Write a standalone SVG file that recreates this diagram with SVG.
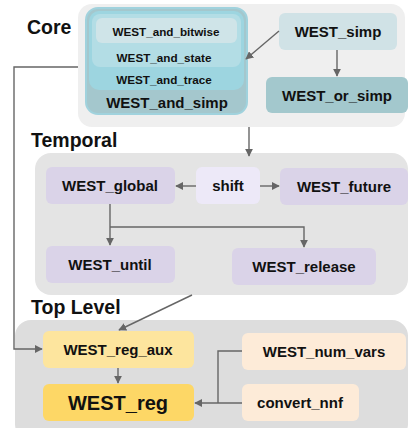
<svg xmlns="http://www.w3.org/2000/svg" width="409" height="428" viewBox="0 0 409 428">
  <style>
    text { font-family: "Liberation Sans", Arial, sans-serif; font-weight: bold; fill: #111; text-anchor: middle; }
    .title { font-size: 19.5px; text-anchor: start; }
    .n14 { font-size: 15px; }
    .n15 { font-size: 15px; }
    .n11 { font-size: 11.7px; }
    .edge { fill: none; stroke: #666; stroke-width: 1.4; }
    .arr { marker-end: url(#ah); }
  </style>
  <defs>
    <marker id="ah" viewBox="0 0 10 10" refX="9" refY="5" markerWidth="8" markerHeight="8" markerUnits="userSpaceOnUse" orient="auto">
      <path d="M0,0 L10,5 L0,10 z" fill="#666"/>
    </marker>
  </defs>

  <!-- cluster backgrounds -->
  <g id="cluster-core">
    <rect x="78" y="4" width="327" height="123" rx="14" fill="#efefef"/>
    <text class="title" x="27" y="34">Core</text>
  </g>
  <g id="cluster-temporal">
    <rect x="35" y="153" width="373" height="142" rx="16" fill="#e4e4e4"/>
    <text class="title" x="31" y="147">Temporal</text>
  </g>
  <g id="cluster-top">
    <rect x="15" y="320" width="393" height="120" rx="16" fill="#dddddd"/>
    <text class="title" x="31" y="314">Top Level</text>
  </g>

  <!-- nested WEST_and_simp stack -->
  <g id="WEST_and_simp">
    <rect x="86" y="8" width="161" height="106" rx="12" fill="#a4c7cd" stroke="#a0d2dd" stroke-width="2"/>
    <text class="n15" x="167" y="108">WEST_and_simp</text>
  </g>
  <g id="WEST_and_trace">
    <rect x="89" y="11" width="155" height="79" rx="10" fill="#9dd5e0"/>
    <text class="n11" x="164" y="84">WEST_and_trace</text>
  </g>
  <g id="WEST_and_state">
    <rect x="92" y="14" width="149" height="53" rx="8" fill="#b3dde5"/>
    <text class="n11" x="164" y="62">WEST_and_state</text>
  </g>
  <g id="WEST_and_bitwise">
    <rect x="96" y="18" width="141" height="25" rx="6" fill="#cfe4e8"/>
    <text class="n11" x="166" y="36">WEST_and_bitwise</text>
  </g>

  <g id="WEST_simp">
    <rect x="279" y="13" width="118" height="37" rx="6" fill="#d0e2e6"/>
    <text class="n15" x="338" y="37">WEST_simp</text>
  </g>
  <g id="WEST_or_simp">
    <rect x="266" y="77" width="142" height="36" rx="6" fill="#a3c8cd"/>
    <text class="n15" x="337" y="101">WEST_or_simp</text>
  </g>

  <!-- temporal nodes -->
  <g id="WEST_global">
    <rect x="46" y="167" width="129" height="37" rx="6" fill="#dad3e8"/>
    <text class="n14" x="110" y="191">WEST_global</text>
  </g>
  <g id="shift">
    <rect x="196" y="167" width="64" height="37" rx="6" fill="#ede9f8"/>
    <text class="n14" x="228" y="191">shift</text>
  </g>
  <g id="WEST_future">
    <rect x="280" y="168" width="128" height="37" rx="6" fill="#dad3e8"/>
    <text class="n14" x="344" y="192">WEST_future</text>
  </g>
  <g id="WEST_until">
    <rect x="46" y="246" width="129" height="37" rx="6" fill="#dad3e8"/>
    <text class="n14" x="110" y="270">WEST_until</text>
  </g>
  <g id="WEST_release">
    <rect x="232" y="248" width="144" height="37" rx="6" fill="#dad3e8"/>
    <text class="n14" x="304" y="272">WEST_release</text>
  </g>

  <!-- top level nodes -->
  <g id="WEST_reg_aux">
    <rect x="43" y="331" width="151" height="37" rx="6" fill="#fde59e"/>
    <text class="n14" x="118" y="355">WEST_reg_aux</text>
  </g>
  <g id="WEST_reg">
    <rect x="43" y="384" width="151" height="37" rx="6" fill="#fdd766"/>
    <text x="118" y="410" style="font-size:20px">WEST_reg</text>
  </g>
  <g id="WEST_num_vars">
    <rect x="242" y="333" width="164" height="37" rx="6" fill="#fdebd8"/>
    <text class="n14" x="324" y="357">WEST_num_vars</text>
  </g>
  <g id="convert_nnf">
    <rect x="242" y="384" width="117" height="37" rx="6" fill="#fdebd8"/>
    <text class="n14" x="300" y="408">convert_nnf</text>
  </g>

  <!-- connectors -->
  <g id="edges">
    <path class="edge arr" d="M279,31 L246,59"/>
    <path class="edge arr" d="M337,50 L337,76"/>
    <path class="edge arr" d="M78,67 L14,67 L14,349 L42,349"/>
    <path class="edge arr" d="M249,127 L249,156"/>
    <path class="edge arr" d="M196,186 L176,186"/>
    <path class="edge arr" d="M260,186 L279,186"/>
    <path class="edge arr" d="M110,204 L110,245"/>
    <path class="edge arr" d="M110,227 L304,227 L304,247"/>
    <path class="edge arr" d="M192,295 L119,330"/>
    <path class="edge arr" d="M118,368 L118,383"/>
    <path class="edge" d="M242,351 L218,351 L218,403"/>
    <path class="edge arr" d="M242,403 L195,403"/>
  </g>
</svg>
